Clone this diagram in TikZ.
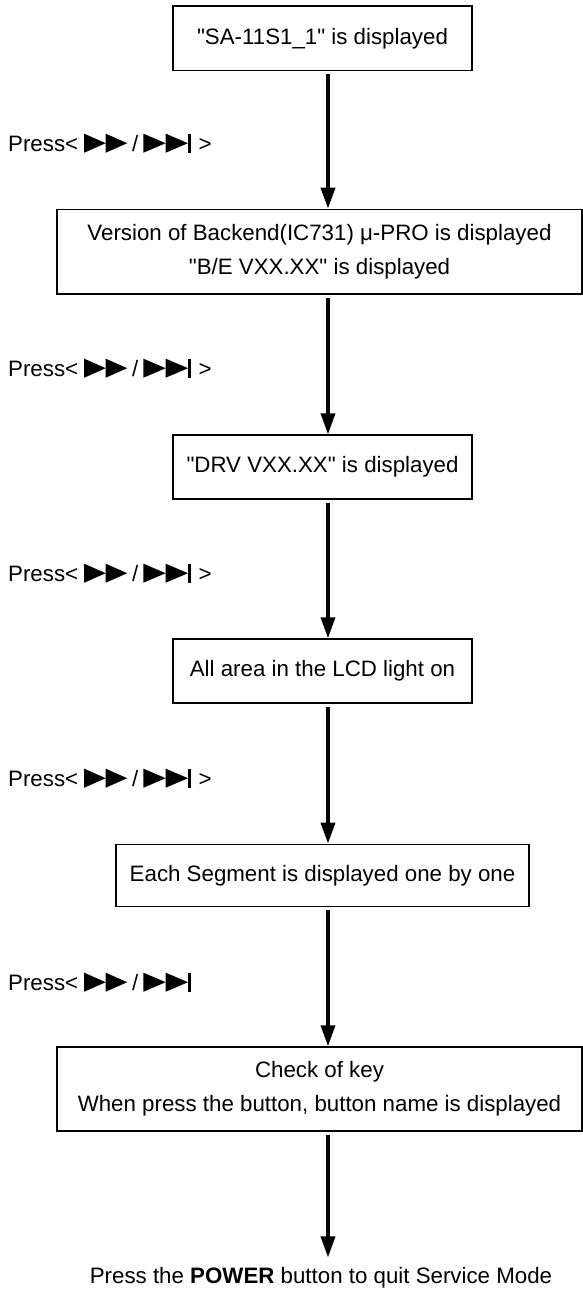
\documentclass[tikz,border=0pt]{standalone}
\usepackage{fontspec}
\setmainfont{Liberation Sans}
\usetikzlibrary{arrows.meta}
\usetikzlibrary{positioning}

\newcommand{\fwdicon}{\tikz[baseline=0pt,x=1pt,y=1pt]{\fill (0,-1.7)--(21.5,7.8)--(0,17.3)--cycle;
  \fill (21.5,-1.7)--(43,7.8)--(21.5,17.3)--cycle;}}
\newcommand{\skipicon}{\tikz[baseline=0pt,x=1pt,y=1pt]{\fill (0,-1.7)--(22.3,7.8)--(0,17.3)--cycle;
  \fill (22.3,-1.7)--(44.6,7.8)--(22.3,17.3)--cycle;
  \fill (44.3,-1.7) rectangle (47.1,17.3);}}
\newcommand{\presstext}{Press<\hspace{6pt}\fwdicon\hspace{5pt}/\hspace{5pt}\skipicon}
\newcommand{\qt}{\textquotedbl}

\tikzset{
  stepbox/.style={draw,line width=1.3pt,inner sep=0pt,align=center},
  flow/.style={-{Triangle[length=21pt,width=14pt]},line width=3.5pt,shorten <=3pt},
  presslabel/.style={anchor=base west,inner sep=0pt}
}

\begin{document}
\begin{tikzpicture}[x=1pt,y=-1pt,font=\fontsize{22.3}{34}\selectfont]
          \useasboundingbox (0,0) rectangle (583,1293);
          \coordinate (ax) at (328,0);

          \node[stepbox,minimum width=299pt,minimum height=64.7pt] (sa) at (322.5,38.3) {\qt SA-11S1\_1\qt{} is displayed};
          \node[stepbox,minimum width=525pt,minimum height=84.7pt] (be) at (319.5,251.7)
                     {Version of Backend(IC731) μ-PRO is displayed\\\qt B/E VXX.XX\qt{} is displayed};
          \node[stepbox,minimum width=299pt,minimum height=64pt] (drv) at (322.5,467) {\qt DRV VXX.XX\qt{} is displayed};
          \node[stepbox,minimum width=299pt,minimum height=64pt] (lcd) at (322.5,671) {All area in the LCD light on};
          \node[stepbox,minimum width=413pt,minimum height=62.4pt] (seg) at (322.5,875.5) {Each Segment is displayed one by one};
          \node[stepbox,minimum width=525pt,minimum height=84pt] (ck) at (319.5,1089)
                     {Check of key\\When press the button, button name is displayed};
          \node[inner sep=0pt] (quit) at (321,1278) {Press the \textbf{POWER} button to quit Service Mode};

          \node[presslabel] (p1) at (8,151) {\presstext\hspace{8pt}>};
          \node[presslabel] (p2) at (8,376) {\presstext\hspace{8pt}>};
          \node[presslabel] (p3) at (8,581) {\presstext\hspace{8pt}>};
          \node[presslabel] (p4) at (8,786) {\presstext\hspace{8pt}>};
          \node[presslabel] (p5) at (8,990) {\presstext};

          \draw[flow] (sa.south -| ax) -- (be.north -| ax);
          \draw[flow] (be.south -| ax) -- (drv.north -| ax);
          \draw[flow] (drv.south -| ax) -- (lcd.north -| ax);
          \draw[flow] (lcd.south -| ax) -- (seg.north -| ax);
          \draw[flow] (seg.south -| ax) -- (ck.north -| ax);
          \draw[flow,shorten >=10pt] (ck.south -| ax) -- (quit.north -| ax);

        \end{tikzpicture}
\end{document}
